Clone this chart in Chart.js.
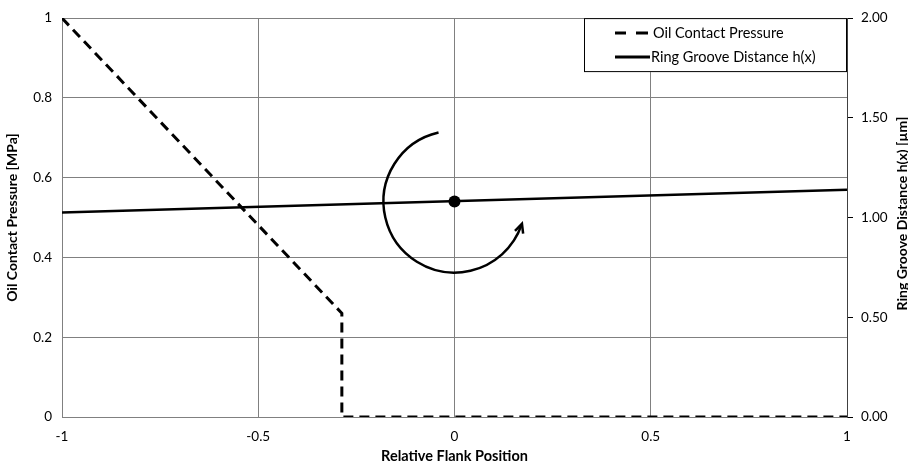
<!DOCTYPE html>
<html>
<head>
<meta charset="utf-8">
<script src="https://cdn.jsdelivr.net/npm/chart.js@4.4.1/dist/chart.umd.min.js"></script>
<style>
  html, body { margin: 0; padding: 0; background: #fff; }
  #wrap { width: 908px; height: 465px; position: relative; }
</style>
</head>
<body>
<div id="wrap"><canvas id="flankChart"></canvas></div>
<script>
// Data
const pressureX = [-1, -0.287, -0.287, 1]
const pressureY = [1, 0.26, 0, 0]
const grooveX = [-1, 1]
const grooveY = [1.025, 1.14]
const pivotX = 0
const pivotY = 1.08
const xTicks = [-1, -0.5, 0, 0.5, 1]
const legendLabels = ['Oil Contact Pressure', 'Ring Groove Distance h(x)']
const rightTitle = 'Ring Groove Distance h(x) [µm]'

const FONT = 'Lato, "Open Sans", sans-serif'

// rotation arrow + pivot dot + boxed legend + right axis title
const overlayPlugin = {
  id: 'overlay',
  afterDatasetsDraw(chart) {
    const ctx = chart.ctx
    const cx = chart.scales.x.getPixelForValue(pivotX)
    const cy = chart.scales.y2.getPixelForValue(pivotY)
    const r = 71
    const a0 = 257 * Math.PI / 180
    const a1 = 19 * Math.PI / 180
    ctx.save()
    ctx.strokeStyle = '#000'
    ctx.lineWidth = 2.5
    ctx.beginPath()
    ctx.arc(cx, cy, r, a0, a1, true)
    ctx.stroke()
    // arrow head, tangent direction at a1 going anticlockwise
    const ex = cx + r * Math.cos(a1), ey = cy + r * Math.sin(a1)
    const dir = Math.atan2(-Math.cos(a1), Math.sin(a1))
    ctx.beginPath()
    ctx.moveTo(ex - 9 * Math.cos(dir - 0.5), ey - 9 * Math.sin(dir - 0.5))
    ctx.lineTo(ex + 1 * Math.cos(dir), ey + 1 * Math.sin(dir))
    ctx.lineTo(ex - 9 * Math.cos(dir + 0.5), ey - 9 * Math.sin(dir + 0.5))
    ctx.stroke()
    // pivot dot
    ctx.fillStyle = '#000'
    ctx.beginPath()
    ctx.arc(cx, cy, 6, 0, Math.PI * 2)
    ctx.fill()

    // legend box
    const area = chart.chartArea
    const bw = 263, bh = 54
    const bx = area.right - bw, by = area.top
    ctx.fillStyle = '#fff'
    ctx.fillRect(bx, by, bw, bh)
    ctx.strokeStyle = '#000'
    ctx.lineWidth = 1
    ctx.strokeRect(bx + 0.5, by + 0.5, bw - 1, bh - 1)
    ctx.font = '14.5px ' + FONT
    ctx.textBaseline = 'middle'
    ctx.fillStyle = '#000'
    const rows = [by + 15, by + 39]
    ctx.lineWidth = 3
    // dashed sample
    ctx.beginPath()
    ctx.moveTo(bx + 31, rows[0]); ctx.lineTo(bx + 42, rows[0])
    ctx.moveTo(bx + 52, rows[0]); ctx.lineTo(bx + 64, rows[0])
    ctx.stroke()
    ctx.beginPath()
    ctx.moveTo(bx + 31, rows[1]); ctx.lineTo(bx + 66, rows[1])
    ctx.stroke()
    ctx.fillText(legendLabels[0], bx + 69, rows[0])
    ctx.fillText(legendLabels[1], bx + 67, rows[1])

    // right axis title, reading bottom to top
    ctx.translate(902, (area.top + area.bottom) / 2 - 4)
    ctx.rotate(-Math.PI / 2)
    ctx.font = 'bold 14px ' + FONT
    ctx.textAlign = 'center'
    ctx.fillText(rightTitle, 0, 0)
    ctx.restore()
  }
}

function initChart() {
  const ctx = document.getElementById('flankChart')
  new Chart(ctx, {
    type: 'scatter',
    data: {
      datasets: [
        {
          label: legendLabels[0],
          data: pressureX.map((x, i) => ({ x: x, y: pressureY[i] })),
          showLine: true,
          borderColor: '#000',
          borderWidth: 3,
          borderDash: [10, 6],
          pointRadius: 0,
          yAxisID: 'y'
        },
        {
          label: legendLabels[1],
          data: grooveX.map((x, i) => ({ x: x, y: grooveY[i] })),
          showLine: true,
          borderColor: '#000',
          borderWidth: 2.5,
          pointRadius: 0,
          yAxisID: 'y2'
        }
      ]
    },
    options: {
      responsive: true,
      maintainAspectRatio: false,
      animation: false,
      layout: { padding: { top: 18, left: 0, right: 0, bottom: 0 } },
      plugins: { legend: { display: false }, tooltip: { enabled: false } },
      scales: {
        x: {
          type: 'linear', min: -1, max: 1,
          afterBuildTicks: s => { s.ticks = xTicks.map(v => ({ value: v })) },
          afterFit: s => { s.height = 48 },
          grid: { color: '#808080', drawTicks: false },
          border: { color: '#808080' },
          ticks: { color: '#000', padding: 12, font: { family: FONT, size: 13.5 }, callback: v => String(v) },
          title: { display: true, text: 'Relative Flank Position', color: '#000', font: { family: FONT, size: 14.5, weight: 'bold' }, padding: { top: 0, bottom: 0 } }
        },
        y: {
          position: 'left', min: 0, max: 1,
          afterFit: s => { s.width = 62 },
          grid: { color: '#808080', drawTicks: false },
          border: { color: '#808080' },
          ticks: { stepSize: 0.2, color: '#000', padding: 10, font: { family: FONT, size: 13.5 }, callback: v => String(Math.round(v * 10) / 10) },
          title: { display: true, text: 'Oil Contact Pressure [MPa]', color: '#000', font: { family: FONT, size: 14, weight: 'bold' }, padding: { top: 4, bottom: 0 } }
        },
        y2: {
          position: 'right', min: 0, max: 2,
          afterFit: s => { s.width = 61 },
          grid: { drawOnChartArea: false, color: '#000', tickLength: 6 },
          border: { color: '#404040' },
          ticks: { stepSize: 0.5, color: '#000', padding: 8, font: { family: FONT, size: 13.5 }, callback: v => v.toFixed(2) },
          title: { display: false }
        }
      }
    },
    plugins: [overlayPlugin]
  })
}

document.addEventListener('DOMContentLoaded', initChart)
</script>
</body>
</html>
